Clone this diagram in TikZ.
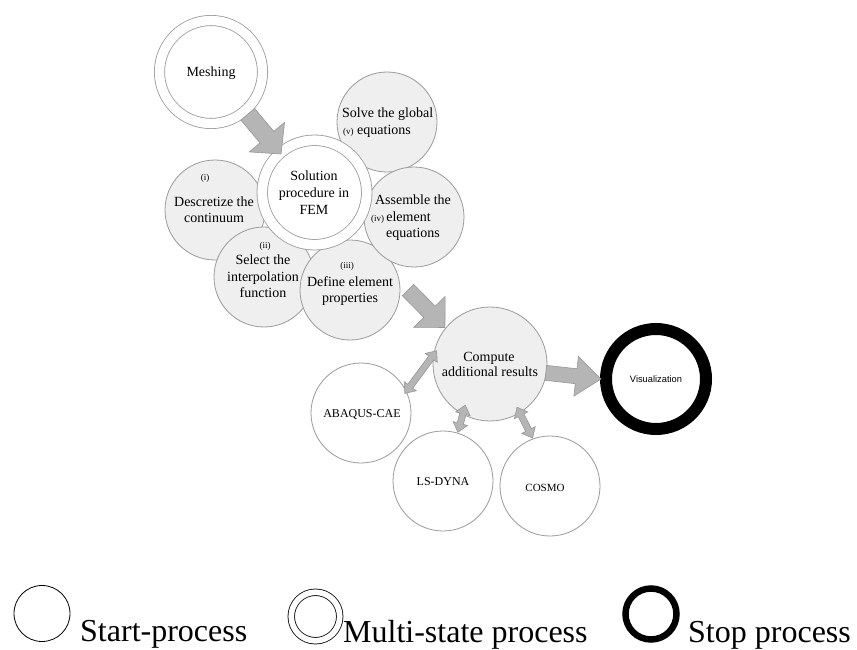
\documentclass[tikz,border=0pt]{standalone}
\usepackage{fontspec}
\setmainfont{Liberation Serif}
\newfontfamily\sansf{Liberation Sans}
\usetikzlibrary{calc}
\definecolor{cfill}{HTML}{EFEFEF}
\definecolor{cline}{HTML}{9A9A9A}
\definecolor{afill}{HTML}{B5B5B5}
\definecolor{aline}{HTML}{979797}
\newcommand\fs[1]{\fontsize{#1}{#1}\selectfont}
% single block arrow: tail, tip, shaft half width, head half width, head length
\newcommand\myarrow[5]{%
  \coordinate (ba-b) at ($(#2)!#5!(#1)$);
  \draw[blk] ($(#1)!#3!90:(#2)$) -- ($(ba-b)!#3!90:(#2)$) -- ($(ba-b)!#4!90:(#2)$)
    -- (#2) -- ($(ba-b)!#4!-90:(#2)$) -- ($(ba-b)!#3!-90:(#2)$) -- ($(#1)!#3!-90:(#2)$) -- cycle;}
% double block arrow
\newcommand\mydarrow[5]{%
  \coordinate (da-a) at ($(#1)!#5!(#2)$);
  \coordinate (da-b) at ($(#2)!#5!(#1)$);
  \draw[blk] (#1) -- ($(da-a)!#4!90:(#2)$) -- ($(da-a)!#3!90:(#2)$) -- ($(da-b)!#3!90:(#2)$)
    -- ($(da-b)!#4!90:(#2)$) -- (#2) -- ($(da-b)!#4!-90:(#2)$) -- ($(da-b)!#3!-90:(#2)$)
    -- ($(da-a)!#3!-90:(#2)$) -- ($(da-a)!#4!-90:(#2)$) -- cycle;}
\begin{document}
\begin{tikzpicture}[x=1pt,y=-1pt,
  proc/.style={circle,draw=cline,line width=0.8pt,minimum size=100pt,inner sep=0pt,fill=cfill},
  startc/.style={proc,fill=white},
  multic/.style={circle,draw=cline,line width=0.8pt,double=white,double distance=9.4pt,fill=white,minimum size=103pt,inner sep=0pt},
  stopc/.style={circle,draw=black,line width=12pt,fill=white,minimum size=100pt,inner sep=0pt},
  txt/.style={inner sep=0pt,anchor=base,font=\fs{14}},
  sm/.style={inner sep=0pt,anchor=base,font=\fs{9}},
  captxt/.style={inner sep=0pt,anchor=base,font=\fs{12}},
  leg/.style={inner sep=0pt,anchor=base west,font=\fs{32}},
  blk/.style={draw=aline,fill=afill,line width=0.6pt,line join=miter}]
\useasboundingbox (0,0) rectangle (857,650);
\fill[white] (0,0) rectangle (857,650);

% process circles
\node[proc] (desc) at (215,210) {};
\node[proc] (sel) at (264,277) {};
\node[proc] (def) at (350,290) {};
\node[proc] (solve) at (387,122) {};
\node[proc] (assem) at (414,217) {};
\node[multic,minimum size=104.5pt,double distance=9.7pt] (sol) at (314.5,192.5) {};
\node[multic] (mesh) at (211,72) {};
\node[proc,minimum size=114pt] (comp) at (490,364) {};
\node[startc] (abq) at (361,413) {};
\node[startc] (ls) at (443,481) {};
\node[startc] (cosmo) at (550,486) {};
\node[stopc] (vis) at (656,379) {};

% texts
\node[txt] (tmesh) at (211,76.5) {Meshing};
\node[txt] (tsol1) at (314,181) {Solution};
\node[txt] (tsol2) at (314,197.5) {procedure in};
\node[txt] (tsol3) at (314,214.5) {FEM};
\node[txt,anchor=base west] (tsolve1) at (342,117.5) {Solve the global};
\node[txt,anchor=base west] (tsolve2) at (343,134.5) {{\fs{9}(v)} equations};
\node[sm] (tdesc0) at (205,181) {(i)};
\node[txt] (tdesc1) at (214,206.5) {Descretize the};
\node[txt] (tdesc2) at (214,222.5) {continuum};
\node[txt] (tass1) at (413,204.5) {Assemble the};
\node[sm] (tass0) at (377.5,221) {(iv)};
\node[txt] (tass2) at (408.5,221) {element};
\node[txt] (tass3) at (413,237.5) {equations};
\node[sm] (tsel0) at (265,248) {(ii)};
\node[txt] (tsel1) at (263,264.5) {Select the};
\node[txt] (tsel2) at (263,281.5) {interpolation};
\node[txt] (tsel3) at (263,297.5) {function};
\node[sm] (tdef0) at (347,268) {(iii)};
\node[txt] (tdef1) at (350,286.5) {Define element};
\node[txt] (tdef2) at (350,302.5) {properties};
\node[txt] (tcomp1) at (489,361.5) {Compute};
\node[txt] (tcomp2) at (490,376.5) {additional results};
\node[inner sep=0pt,anchor=base,font=\sansf\fs{9.3}] (tvis) at (656,382.5) {Visualization};
\node[captxt] (tabq) at (362,417) {ABAQUS-CAE};
\node[captxt] (tls) at (443,485) {LS-DYNA};
\node[captxt,font=\fs{11}] (tcos) at (545,491) {COSMO};

% arrow end points
\coordinate (a1s) at ($(mesh.center)!56pt!(mesh.-49)$);
\coordinate (a1e) at ($(sol.center)!51pt!(sol.131)$);
\coordinate (a2s) at ($(def.center)!58pt!(def.0)$);
\coordinate (a2e) at ($(comp.center)!58pt!(comp.141)$);
\coordinate (a3s) at ($(comp.center)!56.5pt!(comp.-9)$);
\coordinate (a3e) at ($(vis.center)!55pt!(vis.180)$);
\coordinate (d1s) at ($(comp.center)!55pt!(comp.166)$);
\coordinate (d1e) at ($(abq.center)!48pt!(abq.24)$);
\coordinate (d2s) at ($(comp.center)!48pt!(comp.-121)$);
\coordinate (d2e) at ($(ls.center)!51pt!(ls.73)$);
\coordinate (d3s) at ($(comp.center)!51pt!(comp.-58)$);
\coordinate (d3e) at ($(cosmo.center)!51pt!(cosmo.110)$);

\myarrow{a1s}{a1e}{9pt}{23pt}{22pt}
\myarrow{a2s}{a2e}{8pt}{22pt}{22pt}
\myarrow{a3s}{a3e}{7.5pt}{20pt}{25pt}
\mydarrow{d1s}{d1e}{3.2pt}{7.5pt}{9pt}
\mydarrow{d2s}{d2e}{3.2pt}{7.5pt}{9pt}
\mydarrow{d3s}{d3e}{3.2pt}{7.5pt}{9pt}

% legend
\node[circle,draw=black,line width=0.8pt,minimum size=56pt,inner sep=0pt] (lstart) at (42,613.5) {};
\node[leg] (lstartt) at (80,641) {Start-process};
\node[circle,draw=black,line width=0.8pt,double=white,double distance=5.7pt,minimum size=48.5pt,inner sep=0pt] (lmulti) at (315.5,616.5) {};
\node[leg] (lmultit) at (343,642) {Multi-state process};
\node[circle,draw=black,line width=6.5pt,minimum size=51pt,inner sep=0pt] (lstop) at (651,614) {};
\node[leg] (lstopt) at (688,642) {Stop process};
\end{tikzpicture}
\end{document}
